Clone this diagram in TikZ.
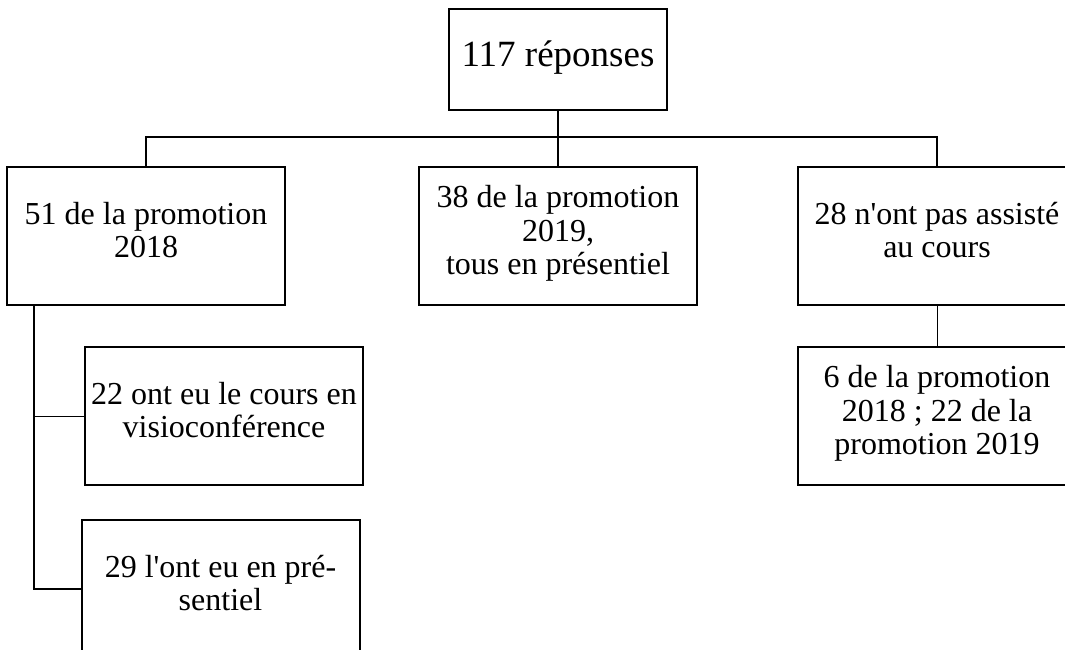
\documentclass[tikz,border=0pt]{standalone}
\usepackage{fontspec}
\setmainfont{Liberation Serif}[Ligatures=TeXOff]
\usetikzlibrary{positioning}

\begin{document}
\begin{tikzpicture}[
  x=1pt, y=-1pt,
  box/.style={draw, line width=2pt, align=center, minimum width=278pt,
              minimum height=138pt, inner sep=2pt, text depth=12pt,
              font=\fontsize{32}{33.5}\selectfont},
  wire/.style={line width=2pt},
  twig/.style={line width=1pt}]
  \clip (0,0) rectangle (1065,650);
  \node[box, minimum width=218pt, minimum height=101pt,
        font=\fontsize{37}{40}\selectfont] (top) at (558,59.5) {117 réponses};
  \node[box, below=55pt of top] (mid) {38 de la promotion\\2019,\\tous en présentiel};
  \node[box, left=132pt of mid] (p18) {51 de la promotion\\2018};
  \node[box, right=99pt of mid] (abs) {28 n'ont pas assisté\\au cours};
  \node[box, below=40pt of abs] (absd) {6 de la promotion\\2018 ; 22 de la\\promotion 2019};
  \node[box, below=40pt of p18, xshift=78pt] (visio) {22 ont eu le cours en\\visioconférence};
  \node[box, below=33pt of visio, xshift=-3.5pt] (pres) {29 l'ont eu en pré-\\sentiel};
  % bus under the root
  \coordinate (bus) at ([yshift=-26pt]top.south);
  \draw[wire] (top.south) -- (mid.north);
  \draw[wire] (p18.north) |- (bus) -| (abs.north);
  \draw[twig] (abs.south) -- (absd.north);
  % trunk of the 2018 group
  \coordinate (trunk) at ([xshift=28pt]p18.south west);
  \draw[wire] (trunk) |- (pres.west);
  \draw[twig] (trunk |- visio.west) -- (visio.west);
\end{tikzpicture}
\end{document}
